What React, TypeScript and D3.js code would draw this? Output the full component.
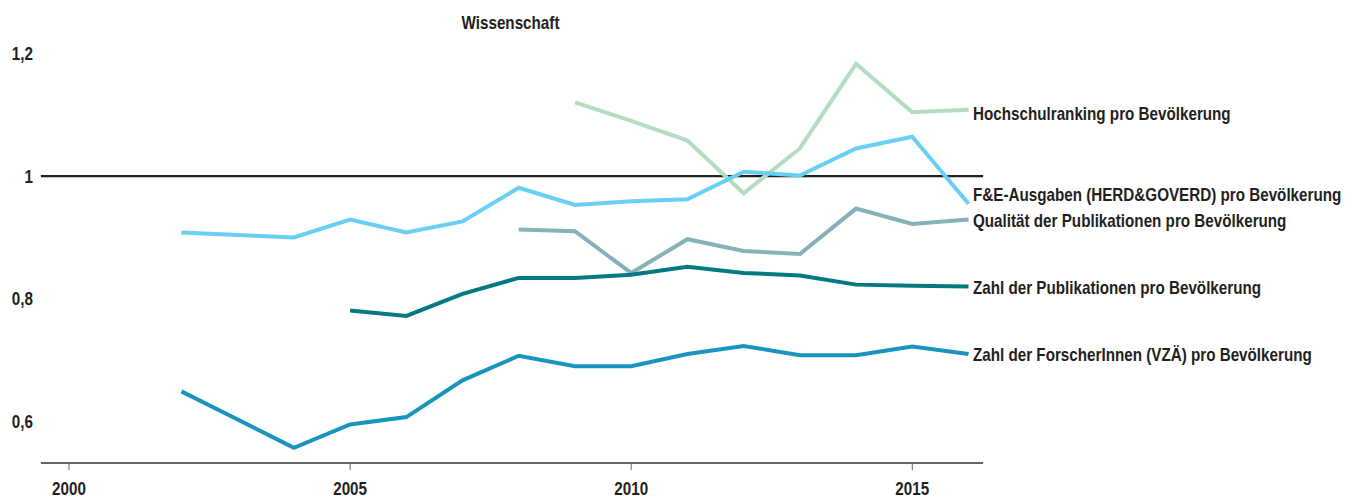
import React from "react";
import * as d3 from "d3";

const title = "Wissenschaft";
const xTicks = [2000, 2005, 2010, 2015];
const yTicks = [0.6, 0.8, 1.0, 1.2];
const yTickLabels = ["0,6", "0,8", "1", "1,2"];

const yearsHochschul = [2009, 2010, 2011, 2012, 2013, 2014, 2015, 2016];
const valsHochschul = [1.12, 1.09, 1.058, 0.972, 1.045, 1.183, 1.104, 1.108];

const yearsFuE = [2002, 2003, 2004, 2005, 2006, 2007, 2008, 2009, 2010, 2011, 2012, 2013, 2014, 2015, 2016];
const valsFuE = [0.908, 0.904, 0.9, 0.929, 0.908, 0.926, 0.981, 0.953, 0.959, 0.962, 1.007, 1.001, 1.045, 1.064, 0.955];

const yearsQual = [2008, 2009, 2010, 2011, 2012, 2013, 2014, 2015, 2016];
const valsQual = [0.913, 0.91, 0.842, 0.897, 0.878, 0.873, 0.947, 0.922, 0.929];

const yearsPub = [2005, 2006, 2007, 2008, 2009, 2010, 2011, 2012, 2013, 2014, 2015, 2016];
const valsPub = [0.781, 0.772, 0.808, 0.834, 0.834, 0.839, 0.852, 0.842, 0.838, 0.823, 0.821, 0.82];

const yearsForsch = [2002, 2003, 2004, 2005, 2006, 2007, 2008, 2009, 2010, 2011, 2012, 2013, 2014, 2015, 2016];
const valsForsch = [0.649, 0.603, 0.557, 0.595, 0.607, 0.667, 0.707, 0.69, 0.69, 0.71, 0.723, 0.708, 0.708, 0.722, 0.71];

const seriesNames = [
  "Hochschulranking pro Bevölkerung",
  "F&E-Ausgaben (HERD&GOVERD) pro Bevölkerung",
  "Qualität der Publikationen pro Bevölkerung",
  "Zahl der Publikationen pro Bevölkerung",
  "Zahl der ForscherInnen (VZÄ) pro Bevölkerung",
];
const seriesColors = ["#b3dcc1", "#68cff5", "#86b1b9", "#007a80", "#1995bd"];
const seriesYears = [yearsHochschul, yearsFuE, yearsQual, yearsPub, yearsForsch];
const seriesVals = [valsHochschul, valsFuE, valsQual, valsPub, valsForsch];
// label nudges (px) to avoid overlap
const labelNudge = [10, -3, 7, 8, 7];

const FONT = "'Liberation Sans', Arial, sans-serif";
const TEXT = "#231f20";
const NARROW = 0.845;

type NTProps = {
  x: number;
  y: number;
  anchor?: "start" | "middle" | "end";
  size?: number;
  children: React.ReactNode;
};

function NText({ x, y, anchor = "start", size = 18, children }: NTProps) {
  return (
    <text
      transform={`translate(${x},${y}) scale(${NARROW},1)`}
      textAnchor={anchor}
      fontSize={size}
      fontWeight="bold"
      fill={TEXT}
    >
      {children}
    </text>
  );
}

export default function App() {
  const width = 1360;
  const height = 498;
  const x = d3.scaleLinear().domain([2000, 2016]).range([69, 968.5]);
  const y = d3.scaleLinear().domain([0.6, 1.2]).range([421.4, 53.4]);
  const axisY = y(0.532);
  const xStart = x(1999.5);
  const xEnd = x(2016.26);

  const line = d3
    .line<[number, number]>()
    .x((d) => x(d[0]))
    .y((d) => y(d[1]));

  return (
    <svg
      width={width}
      height={height}
      style={{ position: "absolute", left: 0, top: 0, background: "#fff" }}
      fontFamily={FONT}
    >
      <NText x={510.5} y={29} anchor="middle">
        {title}
      </NText>
      {yTicks.map((t, i) => (
        <NText key={t} x={33} y={y(t) + 6.5} anchor="end">
          {yTickLabels[i]}
        </NText>
      ))}
      {/* bottom axis */}
      <line x1={xStart} x2={xEnd} y1={axisY} y2={axisY} stroke="#333" strokeWidth={1.5} />
      {xTicks.map((t) => (
        <g key={t}>
          <line x1={x(t)} x2={x(t)} y1={axisY} y2={axisY + 7} stroke="#666" strokeWidth={1} />
          <NText x={x(t)} y={494.5} anchor="middle">
            {t}
          </NText>
        </g>
      ))}
      {/* reference line at 1 */}
      <line x1={xStart} x2={xEnd} y1={y(1)} y2={y(1)} stroke="#231f20" strokeWidth={2.2} />
      {seriesNames.map((name, i) => {
        const pts: [number, number][] = seriesYears[i].map((yr, j) => [yr, seriesVals[i][j]]);
        const last = pts[pts.length - 1];
        return (
          <g key={name}>
            <path d={line(pts) || ""} fill="none" stroke={seriesColors[i]} strokeWidth={4} strokeLinejoin="miter" />
            <NText x={973} y={y(last[1]) + labelNudge[i]}>
              {name}
            </NText>
          </g>
        );
      })}
    </svg>
  );
}
